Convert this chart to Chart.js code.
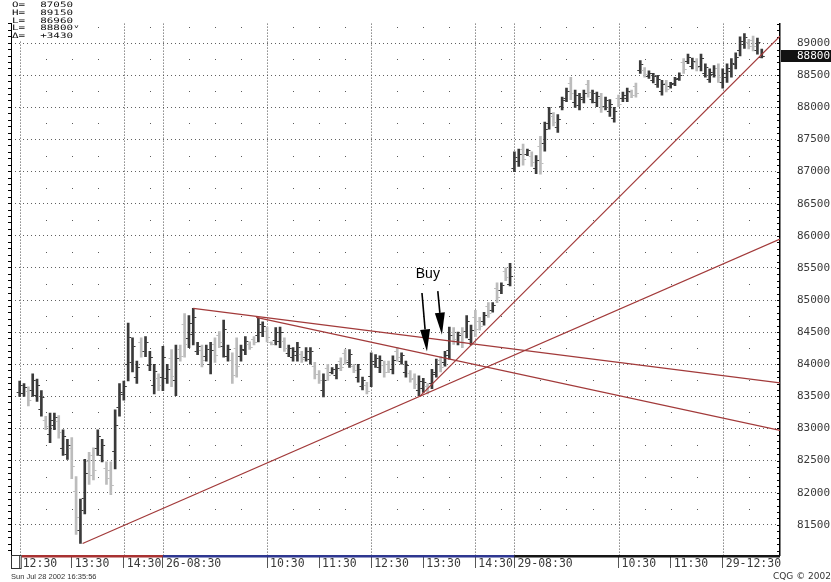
<!DOCTYPE html>
<html>
<head>
<meta charset="utf-8">
<script src="https://cdn.jsdelivr.net/npm/chart.js@4.4.0/dist/chart.umd.min.js"></script>
<style>
  html, body { margin: 0; padding: 0; background: #fff; }
</style>
</head>
<body>
<canvas id="chart" width="831" height="582"></canvas>
<script>
// === DATA (5 min bars, 3 sessions) ===
const tickIdx = [0, 12, 24, 33, 57, 69, 81, 93, 105, 114, 138, 150, 162];
const tickLabels = ['12:30', '13:30', '14:30', '26-08:30', '10:30', '11:30', '12:30', '13:30', '14:30', '29-08:30', '10:30', '11:30', '29-12:30'];
const gridIdx = [0, 24, 33, 57, 81, 105, 114, 138, 162];
const halfHourIdx = [6, 12, 18, 30, 39, 45, 51, 63, 69, 75, 87, 93, 99, 111, 120, 126, 132, 144, 150, 156, 168];
const sessionStart = [0, 33, 114];
const priceTicks = [81500, 82000, 82500, 83000, 83500, 84000, 84500, 85000, 85500, 86000, 86500, 87000, 87500, 88000, 88500, 89000];
const dotLevels = [81750, 82250, 82750, 83250, 83750, 84250, 84750, 85250, 85750, 86250, 86750, 87250, 87750, 88250, 88750, 89250];

const opens = [
  // 25th
  83570, 83560, 83580, 83600, 83520, 83310, 83140, 82920, 83060, 83110,
  82700, 82610, 82700, 82030, 81420, 81920, 82500, 82580, 82700, 82580,
  82390, 82350, 82650, 83340, 83530, 84010, 84040, 83800, 84340, 84210,
  83990, 83680, 83790,
  // 26th
  83800, 83790, 84090, 83750, 84240, 84620, 84410, 84470, 84210, 84220,
  84130, 84000, 84320, 84450, 84280, 84130, 84060, 84260, 84130, 84230,
  84320, 84400, 84460, 84500, 84520, 84340, 84380, 84360, 84360, 84170,
  84110, 84140, 84160, 84110, 84080, 83970, 83850, 83600, 83940, 83880,
  83840, 84050, 84170, 84030, 83970, 83800, 83660, 83680, 83810, 84010,
  83950, 83990, 84010, 83930, 84210, 84050, 83880, 83860, 83790, 83600,
  83630, 83660, 83710, 83880, 84060, 84040, 84230, 84510, 84360, 84490,
  84520, 84390, 84740, 84680, 84670, 84900, 84850, 85190, 85150, 85450,
  85250,
  // 29th
  87050, 87160, 87350, 87280, 87250, 87050, 87400, 87450, 87760, 87870,
  87690, 88020, 88150, 88380, 88080, 88040, 88130, 88360, 88130, 88080,
  88150, 88020, 87940, 87840, 88150, 88140, 88150, 88240, 88330, 88590,
  88580, 88490, 88430, 88370, 88260, 88380, 88330, 88380, 88460, 88700,
  88730, 88650, 88710, 88650, 88530, 88450, 88520, 88610, 88390, 88480,
  88560, 88680, 88890, 88990, 89020, 89050, 88900, 88780
];
const highs = [
  83740, 83700, 83650, 83850, 83770, 83590, 83190, 83240, 83240, 83200,
  82980, 82830, 82860, 82250, 81900, 82520, 82630, 82700, 82980, 82830,
  82480, 82480, 83290, 83700, 83740, 84640, 84410, 84050, 84410, 84430,
  84200, 84000, 83850,
  84280, 84000, 84230, 84300, 84300, 84790, 84760, 84870, 84340, 84300,
  84300, 84340, 84410, 84510, 84690, 84300, 84180, 84410, 84300, 84430,
  84350, 84430, 84720, 84660, 84580, 84350, 84570, 84580, 84410, 84300,
  84260, 84340, 84200, 84260, 84260, 84030, 83900, 83850, 84000, 83950,
  84000, 84100, 84230, 84230, 84000, 84000, 83800, 83720, 84180, 84150,
  84130, 84050, 84050, 84130, 84260, 84180, 84050, 83900, 83850, 83820,
  83780, 83700, 83920, 84080, 84120, 84200, 84580, 84570, 84500, 84570,
  84760, 84610, 84840, 84730, 84810, 84960, 84960, 85270, 85270, 85500,
  85570,
  87310, 87350, 87430, 87350, 87310, 87250, 87550, 87770, 88000, 87920,
  87890, 88160, 88300, 88470, 88270, 88220, 88270, 88420, 88270, 88240,
  88220, 88160, 88120, 88000, 88190, 88240, 88300, 88270, 88380, 88730,
  88620, 88570, 88530, 88500, 88420, 88420, 88390, 88470, 88540, 88760,
  88830, 88770, 88760, 88830, 88680, 88600, 88650, 88680, 88600, 88680,
  88760, 88850, 89100, 89150, 89060, 89110, 89080, 88910
];
const lows = [
  83500, 83500, 83350, 83500, 83420, 83190, 82980, 82780, 82980, 82850,
  82580, 82520, 82220, 81350, 81210, 81670, 82130, 82200, 82580, 82480,
  82130, 81970, 82370, 83190, 83440, 83740, 83880, 83700, 84110, 84120,
  83900, 83540, 83590,
  83590, 83700, 83650, 83510, 84050, 84110, 84260, 84300, 84150, 83960,
  84050, 83850, 84030, 84260, 84110, 84050, 83700, 83800, 84050, 84150,
  84230, 84300, 84350, 84430, 84350, 84300, 84300, 84260, 84200, 84120,
  84050, 84050, 84030, 84050, 84000, 83770, 83700, 83490, 83750, 83850,
  83770, 83900, 84000, 83950, 83870, 83720, 83600, 83540, 83650, 83950,
  83870, 83800, 83870, 83850, 84050, 84000, 83800, 83720, 83620, 83510,
  83560, 83540, 83620, 83800, 83880, 83970, 84080, 84310, 84300, 84260,
  84410, 84300, 84430, 84530, 84610, 84730, 84810, 84960, 85100, 85300,
  85220,
  87000, 87080, 87100, 87250, 87080, 86970, 86960, 87320, 87660, 87710,
  87610, 87960, 88090, 88120, 88000, 87960, 88070, 88160, 88070, 88010,
  87920, 87960, 87860, 87770, 88010, 88090, 88090, 88150, 88160, 88530,
  88470, 88450, 88380, 88310, 88190, 88240, 88300, 88340, 88420, 88530,
  88680, 88600, 88570, 88570, 88470, 88390, 88470, 88390, 88300, 88390,
  88470, 88600, 88800, 88920, 88910, 88880, 88830, 88770
];
const closes = [
  83680, 83650, 83440, 83760, 83680, 83490, 83040, 83130, 83180, 82950,
  82880, 82750, 82410, 81620, 81730, 82310, 82280, 82350, 82880, 82740,
  82230, 82120, 83060, 83570, 83660, 84420, 84280, 83960, 84200, 84350,
  84120, 83890, 83670,
  84110, 83930, 83820, 84100, 84130, 84310, 84640, 84730, 84290, 84060,
  84240, 84220, 84140, 84340, 84550, 84240, 83840, 83980, 84240, 84360,
  84270, 84340, 84630, 84600, 84420, 84310, 84500, 84500, 84260, 84260,
  84210, 84270, 84080, 84210, 84200, 83850, 83760, 83760, 83830, 83930,
  83940, 83960, 84070, 84160, 83910, 83930, 83750, 83590, 84050, 84100,
  84070, 83880, 83920, 84060, 84110, 84140, 83990, 83770, 83690, 83740,
  83730, 83590, 83850, 84010, 83950, 84140, 84460, 84390, 84450, 84350,
  84670, 84530, 84550, 84590, 84760, 84800, 84920, 85050, 85230, 85360,
  85370,
  87230, 87280, 87200, 87330, 87150, 87180, 87140, 87660, 87920, 87770,
  87820, 88110, 88250, 88230, 88200, 88160, 88220, 88240, 88220, 88180,
  88010, 88110, 88060, 87940, 88060, 88200, 88250, 88190, 88230, 88680,
  88520, 88540, 88490, 88450, 88360, 88290, 88370, 88440, 88510, 88600,
  88790, 88730, 88630, 88770, 88630, 88550, 88610, 88480, 88530, 88610,
  88690, 88790, 89030, 89090, 88950, 88950, 89020, 88800
];

// trend lines drawn on the chart: [bar index, price] pairs
const trendLines = [
  [[14.5, 81210], [175.2, 85950]],
  [[92.2, 83500], [175.2, 89110]],
  [[40, 84870], [175.2, 83710]],
  [[54.5, 84730], [175.2, 82970]]
];
const buyText = { at: [94.05, 85400], text: 'Buy' };
const buyArrows = [
  [[92.7, 85110], [93.85, 84200]],
  [[96.35, 85140], [97.3, 84460]]
];

const infoLabels = ['O=', 'H=', 'L=', 'L=', '\u0394='];
const infoValues = ['87050', '89150', '86960', '88800', '+3430'];
const lastPrice = 88800;
const stampText = 'Sun Jul 28 2002 16:35:56';
const creditText = 'CQG \u00a9 2002';

const DARK = '#3a3a3a';
const LIGHT = '#bcbcbc';
const LINE = '#a23a3a';

const barColors = closes.map((c, i) => c > opens[i] ? DARK : LIGHT);

// === DECORATION PLUGIN ===
function arrow(ctx, x1, y1, x2, y2) {
  const ang = Math.atan2(y2 - y1, x2 - x1);
  const hl = 22, hw = 5;
  const bx = x2 - hl * Math.cos(ang), by = y2 - hl * Math.sin(ang);
  ctx.beginPath(); ctx.moveTo(x1, y1); ctx.lineTo(bx, by); ctx.stroke();
  ctx.beginPath();
  ctx.moveTo(x2, y2);
  ctx.lineTo(bx + hw * Math.sin(ang), by - hw * Math.cos(ang));
  ctx.lineTo(bx - hw * Math.sin(ang), by + hw * Math.cos(ang));
  ctx.closePath(); ctx.fill();
}

const decor = {
  id: 'decor',
  beforeDatasetsDraw(chart) {
    const { ctx, chartArea: a, scales: { x, y } } = chart;
    ctx.save();
    // vertical session / 2h grid
    ctx.strokeStyle = '#4a4a4a';
    ctx.lineWidth = 1;
    ctx.setLineDash([1, 2]);
    gridIdx.forEach(i => {
      const px = Math.round(x.getPixelForValue(i)) + 0.5;
      ctx.beginPath(); ctx.moveTo(px, a.top); ctx.lineTo(px, a.bottom); ctx.stroke();
    });
    ctx.setLineDash([]);
    // half hour dots
    ctx.fillStyle = '#5a5a5a';
    halfHourIdx.forEach(i => {
      const px = Math.round(x.getPixelForValue(i));
      dotLevels.forEach(v => {
        const py = Math.round(y.getPixelForValue(v));
        if (py > a.top && py < a.bottom) ctx.fillRect(px, py, 1, 1);
      });
    });
    // minor ticks on right axis
    ctx.fillStyle = '#000';
    for (let v = 81100; v <= 89300; v += 100) {
      const py = Math.round(y.getPixelForValue(v));
      ctx.fillRect(a.right - 3, py, 3, 1);
    }
    ctx.restore();
  },
  afterDatasetDraw(chart, args) {
    if (args.index !== 0) return;
    const { ctx, scales: { x, y } } = chart;
    ctx.save();
    opens.forEach((o, i) => {
      const px = x.getPixelForValue(i);
      ctx.fillStyle = barColors[i];
      ctx.fillRect(px - 3, Math.round(y.getPixelForValue(o)), 2, 1);
      ctx.fillRect(px + 1, Math.round(y.getPixelForValue(closes[i])), 2, 1);
    });
    ctx.restore();
  },
  afterDraw(chart) {
    const { ctx, chartArea: a, scales: { x, y } } = chart;
    ctx.save();

    // session strip under the plot
    const colors = ['#a83232', '#2e3790', '#151515'];
    const x0 = x.getPixelForValue(0) + 2;
    sessionStart.forEach((s, k) => {
      const from = k === 0 ? x0 : x.getPixelForValue(s);
      const to = k < sessionStart.length - 1 ? x.getPixelForValue(sessionStart[k + 1]) : a.right;
      ctx.fillStyle = colors[k];
      ctx.fillRect(from, a.bottom, to - from, 2.5);
    });
    ctx.strokeStyle = '#333';
    ctx.lineWidth = 1;
    ctx.strokeRect(a.left + 0.5, a.bottom + 0.5, x0 - a.left - 1, 13);

    // header box
    ctx.fillStyle = '#fff';
    ctx.fillRect(a.left + 1, 0, 72, 41);
    ctx.fillStyle = '#111';
    ctx.textBaseline = 'middle';
    ctx.font = '7.5px "DejaVu Sans Mono"';
    infoLabels.forEach((lab, k) => {
      const yy = 5.5 + k * 7.6;
      ctx.save();
      ctx.translate(12, yy);
      ctx.scale(1.45, 1);
      ctx.fillText(lab, 0, 0);
      ctx.fillText(infoValues[k], 19.5, 0);
      if (k === 3) {
        ctx.font = '5px "DejaVu Sans"';
        ctx.fillText('v', 43, -2);
      }
      ctx.restore();
    });

    // last price box
    const ly = y.getPixelForValue(lastPrice);
    ctx.fillStyle = '#111';
    ctx.fillRect(a.right + 1, Math.round(ly) - 6, chart.width - a.right, 12);
    ctx.fillStyle = '#fff';
    ctx.font = '11px "DejaVu Sans Mono"';
    ctx.textAlign = 'left';
    ctx.fillText(String(lastPrice), a.right + 17, ly);

    // Buy note
    ctx.fillStyle = '#000';
    ctx.strokeStyle = '#000';
    ctx.lineWidth = 1.6;
    ctx.font = '14px "Liberation Sans"';
    ctx.textAlign = 'center';
    ctx.fillText(buyText.text, x.getPixelForValue(buyText.at[0]), y.getPixelForValue(buyText.at[1]));
    buyArrows.forEach(([p, q]) => {
      arrow(ctx, x.getPixelForValue(p[0]), y.getPixelForValue(p[1]), x.getPixelForValue(q[0]), y.getPixelForValue(q[1]));
    });

    // footer
    ctx.textAlign = 'left';
    ctx.fillStyle = '#333';
    ctx.font = '7.5px "Liberation Sans"';
    ctx.fillText(stampText, 11, 577);
    ctx.font = '9px "DejaVu Sans"';
    ctx.fillText(creditText, 773, 577);
    ctx.restore();
  }
};

// === CHART ===
const yMin = 81030, yMax = 89305;

new Chart(document.getElementById('chart'), {
  type: 'bar',
  data: {
    datasets: [
      {
        type: 'bar',
        data: highs.map((h, i) => ({ x: i, y: [lows[i], h] })),
        backgroundColor: barColors,
        barThickness: 2,
        borderWidth: 0,
        xAxisID: 'x',
        yAxisID: 'y',
        order: 2
      },
      ...trendLines.map(t => ({
        type: 'line',
        data: t.map(p => ({ x: p[0], y: p[1] })),
        borderColor: LINE,
        borderWidth: 1.2,
        pointRadius: 0,
        xAxisID: 'x',
        yAxisID: 'y',
        order: 1
      }))
    ]
  },
  options: {
    responsive: false,
    animation: false,
    events: [],
    layout: { padding: { left: 8, top: 12, right: 0, bottom: 12 } },
    plugins: { legend: { display: false }, tooltip: { enabled: false } },
    scales: {
      x: {
        type: 'linear',
        min: -2,
        max: 175.2,
        offset: false,
        afterBuildTicks: s => { s.ticks = tickIdx.map(v => ({ value: v })); },
        afterFit: s => { s.height = 15; },
        ticks: {
          autoSkip: false, maxRotation: 0, minRotation: 0,
          align: 'start', labelOffset: 3, padding: -10.5,
          color: '#3a3a3a',
          font: { family: 'DejaVu Sans Mono', size: 11.5 },
          callback: v => tickLabels[tickIdx.indexOf(v)]
        },
        grid: {
          offset: false,
          drawOnChartArea: false,
          tickLength: 13,
          tickColor: '#555',
          tickWidth: 1
        },
        border: { display: false }
      },
      y: {
        type: 'linear',
        position: 'right',
        min: yMin,
        max: yMax,
        afterBuildTicks: s => { s.ticks = priceTicks.map(v => ({ value: v })); },
        afterFit: s => { s.width = 51; },
        ticks: {
          padding: 17,
          color: '#3a3a3a',
          font: { family: 'DejaVu Sans Mono', size: 11 },
          callback: v => String(v)
        },
        grid: { color: '#606060', drawTicks: false },
        border: { display: true, color: '#000', width: 1.5, dash: [1, 3] }
      },
      yL: {
        type: 'linear',
        position: 'left',
        min: yMin,
        max: yMax,
        afterBuildTicks: s => {
          const t = [];
          for (let v = 81100; v <= 89300; v += 100) t.push({ value: v });
          s.ticks = t;
        },
        afterFit: s => { s.width = 3; },
        ticks: { display: false },
        grid: { drawOnChartArea: false, tickLength: 3, tickColor: '#000', color: '#000' },
        border: { display: true, color: '#000', width: 1 }
      }
    }
  },
  plugins: [decor]
});
</script>
</body>
</html>
